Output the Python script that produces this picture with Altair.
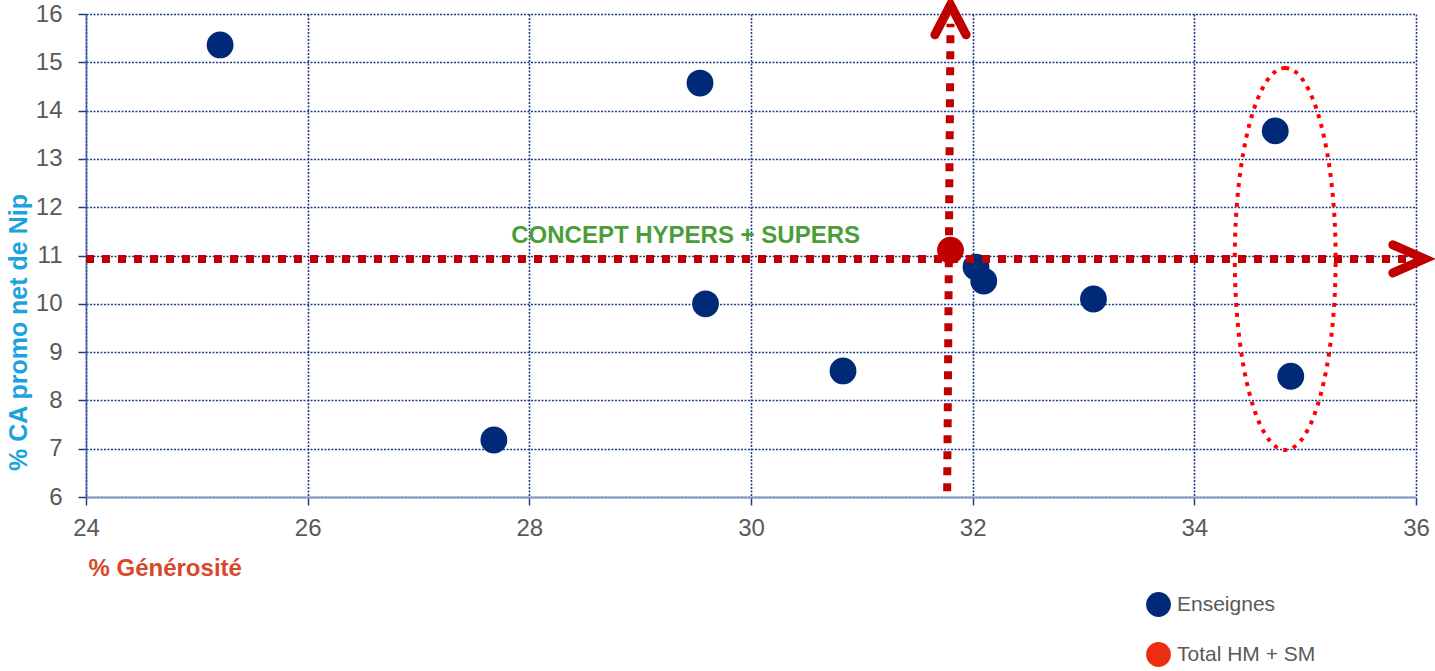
import altair as alt
import pandas as pd

FONT = "Liberation Sans, Arial, sans-serif"

# ---- data ----
series_names = ["Enseignes", "Total HM + SM"]
series_colors = ["#002A78", "#EE2C10"]

gen_ens = [25.21, 29.54, 34.73, 32.03, 32.10, 29.59, 33.09, 30.83, 34.87, 27.68]
promo_ens = [15.36, 14.57, 13.58, 10.76, 10.47, 10.00, 10.10, 8.61, 8.50, 7.18]

gen_total = [31.80]
promo_total = [11.11]

x_ticks = [24, 26, 28, 30, 32, 34, 36]
y_ticks = [6, 7, 8, 9, 10, 11, 12, 13, 14, 15, 16]

# reference (concept) lines, in data units
ref_x_start = [24.0, 31.77]
ref_x_end = [35.95, 31.80]
ref_y_start = [10.93, 6.12]
ref_y_end = [10.93, 15.80]

arrow_right_x = [36.08]
arrow_right_y = [10.93]
arrow_up_x = [31.80]
arrow_up_y = [16.19]

ellipse_x = [34.82]
ellipse_y = [10.93]

concept_text = ["CONCEPT HYPERS + SUPERS"]
concept_x = [29.41]
concept_y = [11.41]

# ---- tables ----
ens_df = pd.DataFrame({"x": gen_ens, "y": promo_ens, "serie": series_names[0]})
tot_df = pd.DataFrame({"x": gen_total, "y": promo_total, "serie": series_names[1]})
ref_df = pd.DataFrame({"x": ref_x_start, "x2": ref_x_end, "y": ref_y_start, "y2": ref_y_end})
arr_r_df = pd.DataFrame({"x": arrow_right_x, "y": arrow_right_y})
arr_u_df = pd.DataFrame({"x": arrow_up_x, "y": arrow_up_y})
ell_df = pd.DataFrame({"x": ellipse_x, "y": ellipse_y})
txt_df = pd.DataFrame({"x": concept_x, "y": concept_y, "t": concept_text})

xscale = alt.Scale(domain=[24, 36], nice=False, zero=False)
yscale = alt.Scale(domain=[6, 16], nice=False, zero=False)

GRID_COLOR = "#1F3C8C"

x_axis = alt.Axis(
    values=x_ticks, title="% Générosité", titleX=2, titleY=71,
    titleAlign="left", titleBaseline="middle", titleColor="#D9482A",
    titleFont=FONT, titleFontSize=24, titleFontWeight="bold",
    labelFont=FONT, labelFontSize=24, labelColor="#595959", labelPadding=11,
    labelFlush=False, labelOverlap=False,
    tickSize=8, tickColor=GRID_COLOR, tickWidth=1.5,
    domainColor="#8597C6", domainWidth=2,
    grid=True, gridColor=GRID_COLOR, gridDash=[2, 1.5], gridWidth=1.6,
)
y_axis = alt.Axis(
    values=y_ticks, title="% CA promo net de Nip", titleX=-68, titleY=318,
    titleAlign="center", titleBaseline="middle", titleColor="#1AA3DD",
    titleFont=FONT, titleFontSize=25, titleFontWeight="bold",
    labelFont=FONT, labelFontSize=24, labelColor="#595959", labelPadding=16,
    labelFlush=False, labelOverlap=False,
    tickSize=8, tickColor=GRID_COLOR, tickWidth=1.5,
    domainColor="#3D5DA8", domainWidth=1.5,
    grid=True, gridColor=GRID_COLOR, gridDash=[2, 1.5], gridWidth=1.6,
)


def X():
    return alt.X("x:Q", scale=xscale, axis=x_axis)


def Y():
    return alt.Y("y:Q", scale=yscale, axis=y_axis)


total_layer = alt.Chart(tot_df).mark_circle(size=720, opacity=1, color="#C00000").encode(
    x=X(), y=Y(),
)

ens_layer = alt.Chart(ens_df).mark_circle(size=720, opacity=1).encode(
    x=X(), y=Y(),
    color=alt.Color(
        "serie:N",
        scale=alt.Scale(domain=series_names, range=series_colors),
        legend=alt.Legend(
            title=None, orient="none", legendX=1060, legendY=578, direction="vertical",
            symbolType="circle", symbolSize=616, symbolOpacity=1, symbolStrokeWidth=0,
            labelFont=FONT, labelFontSize=21, labelColor="#595959",
            rowPadding=25, labelOffset=6, padding=0,
        ),
    ),
)

ref_layer = alt.Chart(ref_df).mark_rule(
    color="#C00000", strokeWidth=8, strokeDash=[8, 8], strokeCap="butt"
).encode(
    x=X(), x2="x2:Q", y=Y(), y2="y2:Q",
)

ARROW_RIGHT = "M-1,-0.44 L0,0 L-1,0.44"
ARROW_UP = "M-0.52,1 L0,0 L0.52,1"

arr_r_layer = alt.Chart(arr_r_df).mark_point(
    shape=ARROW_RIGHT, filled=False, size=4096, stroke="#C00000", strokeWidth=9,
    opacity=1, strokeCap="round", strokeJoin="miter",
).encode(x=X(), y=Y())

arr_u_layer = alt.Chart(arr_u_df).mark_point(
    shape=ARROW_UP, filled=False, size=3600, stroke="#C00000", strokeWidth=9,
    opacity=1, strokeCap="round", strokeJoin="miter",
).encode(x=X(), y=Y())

ELLIPSE = ("M0,-1 C0.1458,-1 0.264,-0.5523 0.264,0 C0.264,0.5523 0.1458,1 0,1 "
           "C-0.1458,1 -0.264,0.5523 -0.264,0 C-0.264,-0.5523 -0.1458,-1 0,-1 Z")

ell_layer = alt.Chart(ell_df).mark_point(
    shape=ELLIPSE, filled=False, size=145924, stroke="#FF0000", strokeWidth=4,
    strokeDash=[4, 6], opacity=1,
).encode(x=X(), y=Y())

txt_layer = alt.Chart(txt_df).mark_text(
    font=FONT, fontSize=24, fontWeight="bold", color="#4A9E3A",
    align="center", baseline="middle",
).encode(x=X(), y=Y(), text="t:N")

chart = alt.layer(
    total_layer, ens_layer, ref_layer, arr_r_layer, arr_u_layer, ell_layer, txt_layer
).properties(
    width=1330, height=483,
    padding={"left": 86, "top": 14, "right": 19, "bottom": 174},
    autosize=alt.AutoSizeParams(type="none"),
).configure(background="white").configure_view(stroke=None)

chart.save("out.html", embed_options={"renderer": "svg", "actions": False})
